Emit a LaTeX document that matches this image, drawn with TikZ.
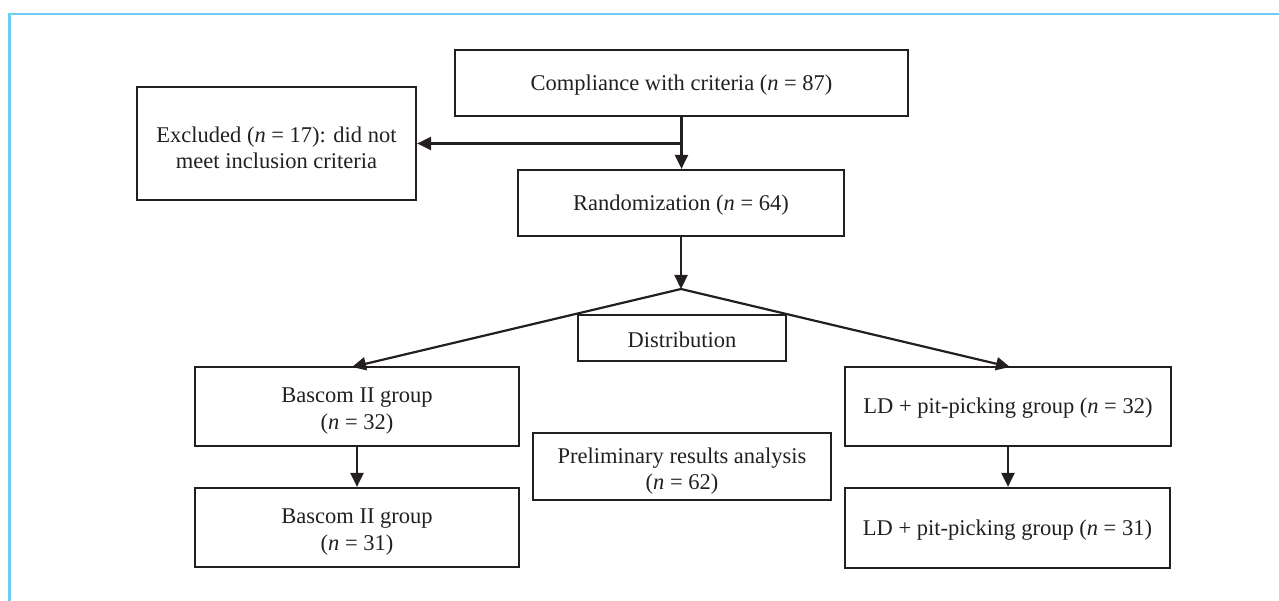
\documentclass[tikz,border=0pt]{standalone}
\usepackage{fontspec}
\setmainfont{Liberation Serif}
\usetikzlibrary{arrows.meta}
\definecolor{frame}{RGB}{110,205,245}
\definecolor{ink}{RGB}{35,31,32}
\begin{document}
\begin{tikzpicture}[x=1pt,y=-1pt,
  box/.style={draw=ink, line width=2.2pt, inner sep=0pt},
  txt/.style={align=center, inner sep=0pt, text=ink, font=\fontsize{22.5}{26.5}\selectfont},
  one/.style={txt, yshift=-2pt},
  two/.style={txt, yshift=-4.5pt},
  arr/.style={line width=2.2pt, draw=ink, -{Triangle[length=14pt,width=13pt]}},
  frameline/.style={draw=frame, line width=2.2pt}]
\useasboundingbox (0,0) rectangle (1279,601);
\draw[frameline] (9.5,601) -- (9.5,14) -- (1279,14);

\node[box, minimum width=453pt, minimum height=66pt,
  label={[one]center:{Compliance with criteria (\textit{n} = 87)}}] (comp) at (681.5,83) {};
\node[box, minimum width=279pt, minimum height=113pt,
  label={[two]center:{Excluded (\textit{n} = 17): did not\\meet inclusion criteria}}] (excl) at (276.5,143.5) {};
\node[box, minimum width=326pt, minimum height=66pt,
  label={[one]center:{Randomization (\textit{n} = 64)}}] (rand) at (681,203) {};
\coordinate (apex) at (681,289);
\node[box, minimum width=208pt, minimum height=46pt,
  label={[one]center:{Distribution}}] (dist) at (682,338) {};
\node[box, minimum width=324pt, minimum height=79pt,
  label={[two]center:{Bascom II group\\(\textit{n} = 32)}}] (b1) at (357,406.5) {};
\node[box, minimum width=324pt, minimum height=79pt,
  label={[two]center:{Bascom II group\\(\textit{n} = 31)}}] (b2) at (357,527.5) {};
\node[box, minimum width=298pt, minimum height=67pt,
  label={[two]center:{Preliminary results analysis\\(\textit{n} = 62)}}] (prel) at (682,466.5) {};
\node[box, minimum width=326pt, minimum height=79pt,
  label={[one]center:{LD + pit-picking group (\textit{n} = 32)}}] (l1) at (1008,406.5) {};
\node[box, minimum width=325pt, minimum height=80pt,
  label={[one]center:{LD + pit-picking group (\textit{n} = 31)}}] (l2) at (1007.5,528) {};
\coordinate (bin) at (352,367);
\coordinate (lin) at (1010,367);

\draw[arr] (comp.south) -- (comp.south |- rand.north);
\draw[arr] (comp.south |- excl.east) -- (excl.east);
\draw[arr] (rand.south) -- (apex);
\draw[arr] (apex) -- (bin);
\draw[arr] (apex) -- (lin);
\draw[arr] (b1) -- (b2);
\draw[arr] (l1.south) -- (l1.south |- l2.north);
\end{tikzpicture}
\end{document}
